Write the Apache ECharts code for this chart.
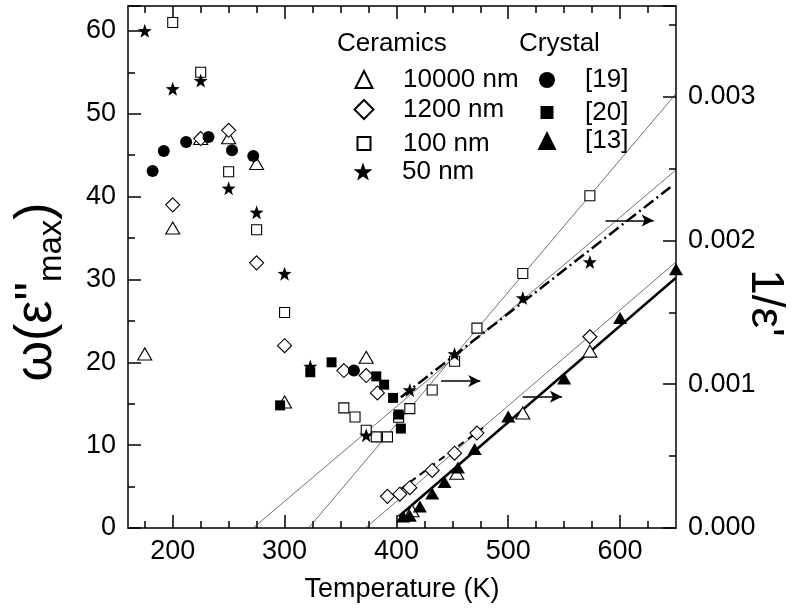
<!DOCTYPE html>
<html>
<head>
<meta charset="utf-8">
<script src="https://cdn.jsdelivr.net/npm/echarts@6/dist/echarts.min.js"></script>
<style>
  html, body { margin: 0; padding: 0; background: #fff; }
  #chart { width: 798px; height: 612px; }
</style>
</head>
<body>
<div id="chart"></div>
<script>
// omega(eps''max) vs T, left axis
const tri10000Left = [[175, 21], [200, 36.2], [225, 47], [250, 47.1], [275, 44], [300, 15.2], [373, 20.6]];
const dia1200Left = [[200, 39], [225, 47], [250, 48], [275, 32], [300, 22], [353, 19], [373, 18.4], [383, 16.3]];
const sq100Left = [[200, 61], [225, 55], [250, 43], [275, 36], [300, 26], [353, 14.5], [363, 13.4], [373, 11.8], [382, 11], [392, 11]];
const star50Left = [[175, 60], [200, 53], [225, 54], [250, 41], [275, 38.1], [300, 30.7], [323, 19.5], [373, 11.2]];
const circ19 = [[182, 43.1], [192, 45.5], [212, 46.6], [232, 47.2], [253, 45.6], [272, 44.9], [362, 19]];
const sq20 = [[296, 14.8], [323, 18.8], [342, 20], [382, 18.3], [389, 17.3], [397, 15.7], [402, 13.7], [404, 12]];

// 1/eps' vs T, right axis
const tri10000Right = [[414, 0.00012], [454, 0.00038], [513, 0.0008], [573, 0.00123]];
const dia1200Right = [[392, 0.00022], [403, 0.000235], [412, 0.00028], [432, 0.0004], [452, 0.00052], [472, 0.00066], [573, 0.00133]];
const sq100Right = [[402, 0.00077], [412, 0.00083], [432, 0.00096], [452, 0.00116], [472, 0.00139], [513, 0.00177], [573, 0.00231]];
const star50Right = [[412, 0.00096], [452, 0.00121], [513, 0.0016], [573, 0.00185]];
const tri13 = [[406, 0.00008], [412, 0.000085], [421, 0.00015], [432, 0.00024], [443, 0.00032], [455, 0.00042], [470, 0.00055], [500, 0.000775], [550, 0.00104], [600, 0.00146], [650, 0.0018]];

// fit lines (right axis)
const fitSqThin = [[321.5, 0], [650, 0.00302]];
const fitStarThin = [[271.8, 0], [650, 0.00249]];
const fitDiaThin = [[372.4, 0], [650, 0.00185]];
const fitStarDashDot = [[404, 0.00091], [645, 0.00237]];
const fitDiaDash = [[395, 0.00022], [478, 0.0007]];
const fitTri13 = [[402, 0.00008], [650, 0.00174]];

// arrows (left axis units)
const arrows = [[[587, 37.1], [630, 37.1]], [[440, 17.75], [475, 17.75]], [[513, 15.85], [548, 15.85]]];

const xMajor = [200, 300, 400, 500, 600];
const xMinor = [175, 225, 250, 275, 325, 350, 375, 425, 450, 475, 525, 550, 575, 625];

const starPath = 'path://M0,-10L2.35,-3.24L9.51,-3.09L3.8,1.24L5.88,8.09L0,4L-5.88,8.09L-3.8,1.24L-9.51,-3.09L-2.35,-3.24Z';
const FONT = 'Liberation Sans, Arial, sans-serif';

const open = { color: '#fff', borderColor: '#000', borderWidth: 1.1, opacity: 1 };
const filled = { color: '#000', borderColor: '#000', borderWidth: 0, opacity: 1 };

function scat(name, data, yIdx, symbol, size, style, z) {
  return { name, type: 'scatter', data, yAxisIndex: yIdx, symbol, symbolSize: size,
    itemStyle: style, z: z || 3, silent: true, animation: false };
}
function fit(data, width, type, color) {
  return { type: 'line', data, yAxisIndex: 1, symbol: 'none', silent: true, animation: false,
    lineStyle: { width, type, color }, z: 2 };
}

// legend: [name, symbol centre x, row centre y, icon size, text x]
const legendItems = [
  ['10000 nm', 363, 75, 17, 402], ['1200 nm', 363, 106, 19, 402],
  ['100 nm', 363, 137, 13, 402], ['50 nm', 363, 168, 19, 402],
  ['[19]', 547, 75, 16, 585], ['[20]', 547, 106, 13, 585], ['[13]', 547, 137, 19, 585]
];
const legends = legendItems.map(([name, cx, cy, s, tx]) => ({
  data: [name], left: cx - s / 2, top: cy - s / 2, itemWidth: s, itemHeight: s,
  selectedMode: false, padding: 0,
  textStyle: { fontSize: 26, color: '#000', fontFamily: FONT, padding: [0, 0, 0, tx - (cx - s / 2) - s - 5] }
}));

const chart = echarts.init(document.getElementById('chart'), null, { renderer: 'canvas' });

const axisCommon = { color: '#000', width: 1.5 };

chart.setOption({
  backgroundColor: '#fff',
  animation: false,
  textStyle: { fontFamily: FONT },
  grid: { left: 128, right: 122, top: 6, bottom: 84, containLabel: false, outerBoundsMode: 'none' },
  graphic: [
    { type: 'text', left: 337, top: 31, style: { text: 'Ceramics', font: '26px ' + FONT, fill: '#000' } },
    { type: 'text', left: 519, top: 31, style: { text: 'Crystal', font: '26px ' + FONT, fill: '#000' } }
  ],
  legend: legends,
  xAxis: [
    { type: 'value', min: 160, max: 650, position: 'bottom',
      axisLine: { lineStyle: axisCommon },
      axisTick: { inside: true, length: 13, lineStyle: axisCommon, customValues: xMajor },
      axisLabel: { customValues: xMajor, fontSize: 27, color: '#000', margin: 10, fontFamily: FONT },
      splitLine: { show: false },
      name: 'Temperature (K)', nameLocation: 'middle', nameGap: 48, nameMoveOverlap: false,
      nameTextStyle: { fontSize: 27, color: '#000', fontFamily: FONT } },
    { type: 'value', min: 160, max: 650, position: 'bottom', axisLine: { show: false },
      axisTick: { inside: true, length: 7, lineStyle: axisCommon, customValues: xMinor },
      axisLabel: { show: false }, splitLine: { show: false } },
    { type: 'value', min: 160, max: 650, position: 'top',
      axisLine: { lineStyle: axisCommon },
      axisTick: { inside: true, length: 13, lineStyle: axisCommon, customValues: xMajor },
      axisLabel: { show: false }, splitLine: { show: false } },
    { type: 'value', min: 160, max: 650, position: 'top', axisLine: { show: false },
      axisTick: { inside: true, length: 7, lineStyle: axisCommon, customValues: xMinor },
      axisLabel: { show: false }, splitLine: { show: false } }
  ],
  yAxis: [
    { type: 'value', min: 0, max: 63, interval: 10, position: 'left',
      axisLine: { show: true, lineStyle: axisCommon },
      axisTick: { inside: true, length: 13, lineStyle: axisCommon },
      minorTick: { show: true, splitNumber: 2, length: 7, lineStyle: axisCommon },
      axisLabel: { fontSize: 27, color: '#000', margin: 12, showMaxLabel: false, fontFamily: FONT },
      splitLine: { show: false },
      name: '{w|ω(ε"}{s|max}{w|)}', nameLocation: 'middle', nameGap: 60, nameRotate: 90,
      nameMoveOverlap: false,
      nameTextStyle: { color: '#000', fontFamily: FONT, padding: [0, 50, 0, 0],
        rich: { w: { fontSize: 52, color: '#000', fontFamily: FONT },
                s: { fontSize: 33, color: '#000', fontFamily: FONT, padding: [30, 0, 0, 0] } } } },
    { type: 'value', min: 0, max: 0.00363, interval: 0.001, position: 'right',
      axisLine: { show: true, lineStyle: axisCommon },
      axisTick: { inside: true, length: 13, lineStyle: axisCommon },
      minorTick: { show: true, splitNumber: 2, length: 7, lineStyle: axisCommon },
      axisLabel: { fontSize: 27, color: '#000', margin: 12, showMaxLabel: false, fontFamily: FONT,
        formatter: v => v.toFixed(3) },
      splitLine: { show: false },
      name: "1/ε'", nameLocation: 'middle', nameGap: 66, nameRotate: -90, nameMoveOverlap: false,
      nameTextStyle: { fontSize: 46, color: '#000', fontFamily: FONT, padding: [0, 0, 0, 72] } }
  ],
  series: [
    fit(fitSqThin, 0.7, 'solid', '#333'),
    fit(fitStarThin, 0.7, 'solid', '#333'),
    fit(fitDiaThin, 0.7, 'solid', '#333'),
    fit(fitStarDashDot, 2.5, [12, 4, 2, 4], '#000'),
    fit(fitDiaDash, 2, [7, 5], '#000'),
    fit(fitTri13, 2.5, 'solid', '#000'),
    { type: 'line', data: [], silent: true, animation: false,
      markLine: { silent: true, animation: false, symbol: ['none', 'arrow'], symbolSize: [9, 12],
        label: { show: false }, lineStyle: { color: '#000', width: 1.5, type: 'solid' },
        data: arrows.map(a => [{ coord: a[0] }, { coord: a[1] }]) } },
    scat('10000 nm', tri10000Left, 0, 'triangle', [14, 12], open),
    scat('10000 nm', tri10000Right, 1, 'triangle', [14, 12], open),
    scat('1200 nm', dia1200Left, 0, 'diamond', [14, 14], open),
    scat('1200 nm', dia1200Right, 1, 'diamond', [14, 14], open),
    scat('100 nm', sq100Left, 0, 'rect', [10, 10], open),
    scat('100 nm', sq100Right, 1, 'rect', [10, 10], open),
    scat('50 nm', star50Left, 0, starPath, [14, 14], filled, 4),
    scat('50 nm', star50Right, 1, starPath, [14, 14], filled, 4),
    scat('[19]', circ19, 0, 'circle', 12, filled, 4),
    scat('[20]', sq20, 0, 'rect', [10, 10], filled, 4),
    scat('[13]', tri13, 1, 'triangle', [14, 12], filled, 4)
  ]
});
</script>
</body>
</html>
